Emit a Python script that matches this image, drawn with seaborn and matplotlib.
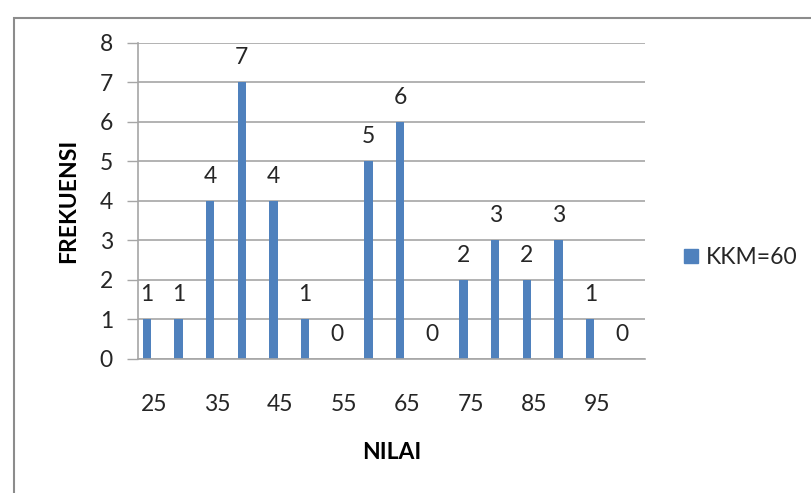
import matplotlib
matplotlib.use("Agg")
import matplotlib.pyplot as plt
import seaborn as sns
import pandas as pd
from matplotlib.patches import Rectangle
from matplotlib.lines import Line2D

# Score classes and how many students fall into each
nilai = [25, 30, 35, 40, 45, 50, 55, 60, 65, 70, 75, 80, 85, 90, 95, 100]
frekuensi = [1, 1, 4, 7, 4, 1, 0, 5, 6, 0, 2, 3, 2, 3, 1, 0]
series_name = "KKM=60"
y_ticks = [0, 1, 2, 3, 4, 5, 6, 7, 8]

df = pd.DataFrame({"NILAI": [str(v) for v in nilai], "FREKUENSI": frekuensi})

sns.set_theme(style="white")
plt.rcParams["font.family"] = ["Lato", "DejaVu Sans"]

BLUE = "#4f81bd"
GRID = "#a6a6a6"
TEXT = "#262626"
FS = 16.5

fig = plt.figure(figsize=(8.11, 4.93), dpi=100)
ax = fig.add_axes([0.170, 0.272, 0.625, 0.641])

sns.barplot(data=df, x="NILAI", y="FREKUENSI", color=BLUE, width=0.26,
            saturation=1, ax=ax)

# Bars sit a little left of each category centre
shift = -0.22
for p in ax.patches:
    p.set_x(p.get_x() + shift)
    p.set_edgecolor("none")

for i, v in enumerate(frekuensi):
    ax.text(i + shift, v + 0.62, str(v), ha="center", va="center",
            fontsize=FS, color=TEXT)

ax.set_xlim(-0.5, len(nilai) - 0.5)
ax.set_ylim(0, 8)
ax.set_yticks(y_ticks)
ax.set_yticklabels([str(t) for t in y_ticks], fontsize=FS, color=TEXT)

# Only every other class gets a tick label
ax.set_xticks(range(0, len(nilai), 2))
ax.set_xticklabels([str(nilai[i]) for i in range(0, len(nilai), 2)],
                   fontsize=FS, color=TEXT)
ax.tick_params(axis="x", length=0, pad=25)
ax.tick_params(axis="y", length=8, width=1, color=GRID, pad=10, left=True)

ax.grid(axis="y", color=GRID, linewidth=1.2)
ax.set_axisbelow(True)
for side in ["top", "right"]:
    ax.spines[side].set_visible(False)
ax.spines["left"].set_color(GRID)
ax.spines["bottom"].set_color(GRID)
ax.spines["left"].set_linewidth(1.2)
ax.spines["bottom"].set_linewidth(1.2)

ax.set_xlabel("NILAI", fontsize=FS, fontweight="bold", color="black", labelpad=20)
ax.set_ylabel("FREKUENSI", fontsize=FS, fontweight="bold", color="black",
              labelpad=15)

handle = Line2D([], [], marker="s", linestyle="none", markersize=10,
                markerfacecolor=BLUE, markeredgecolor=BLUE)
fig.legend([handle], [series_name], loc="center left",
           bbox_to_anchor=(682 / 811, 1 - 258 / 493), frameon=False, fontsize=FS,
           handlelength=0.8, handletextpad=0.25, borderpad=0, borderaxespad=0,
           labelcolor=TEXT)

# Chart-area frame
fig.patches.append(Rectangle((14 / 811, -0.05), 1.2, 1 - 18 / 493 + 0.05,
                             transform=fig.transFigure, fill=False,
                             edgecolor="#8c8c8c", linewidth=1.5))

fig.savefig("out.png", dpi=100)
